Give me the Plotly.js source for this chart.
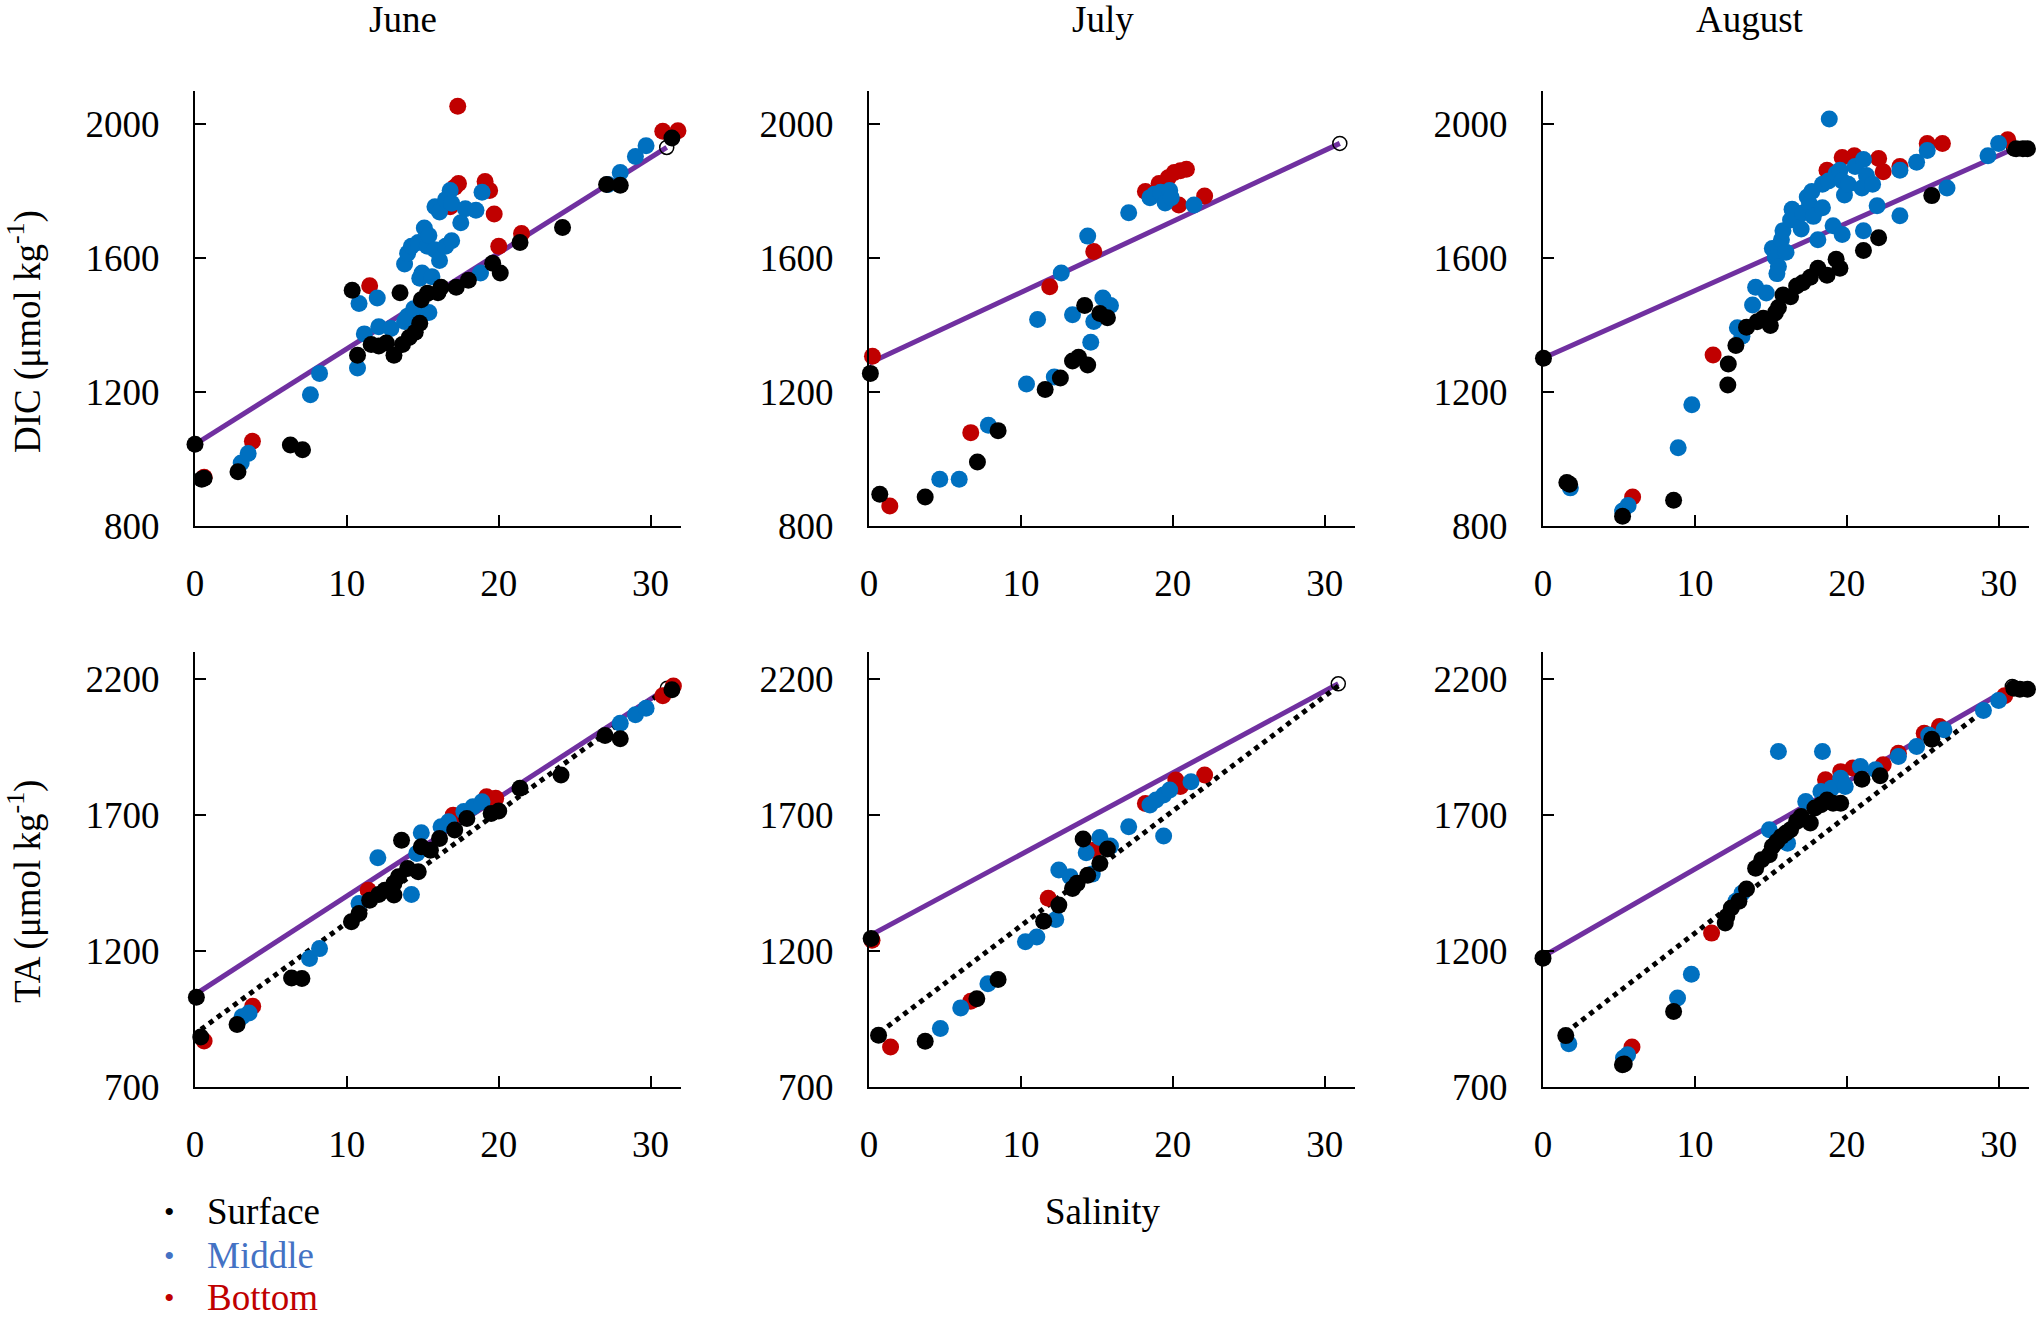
<!DOCTYPE html>
<html>
<head>
<meta charset="utf-8">
<script src="https://cdn.plot.ly/plotly-3.0.1.min.js"></script>
<style>html,body{margin:0;padding:0;background:#fff;}#chart{width:2041px;height:1317px;}</style>
</head>
<body>
<div id="chart"></div>
<script>
// ---------- tick labels / categories ----------
const months = ["June", "July", "August"];
const salinityTicks = [0, 10, 20, 30];
const dicTicks = [800, 1200, 1600, 2000];
const taTicks = [700, 1200, 1700, 2200];
const layerNames = ["Surface", "Middle", "Bottom"];

// ---------- June DIC ----------
const junDIC_surf_x = [0,0.44,0.6,2.83,6.28,7.08,10.35,10.7,11.6,12.1,12.6,13.1,13.5,13.66,14.1,14.5,14.8,14.9,15.3,16.0,16.2,17.2,18.0,19.6,20.1,21.4,24.2,27.1,28.0,31.4];
const junDIC_surf_y = [1043,939,942,961,1041,1027,1503,1309,1341,1337,1346,1309,1496,1341,1362,1378,1405,1475,1494,1496,1512,1512,1533,1584,1555,1646,1691,1819,1817,1958];
const junDIC_mid_x = [3.04,3.5,7.6,8.2,10.7,10.8,11.15,12.0,12.1,12.9,13.8,14.0,14.4,15.1,15.4,13.8,14.0,14.25,14.7,15.3,15.1,15.4,15.8,16.1,16.5,16.9,15.8,16.1,16.5,16.8,16.9,17.5,17.8,18.5,18.9,14.8,14.95,15.6,18.8,27.2,28.0,29.0,29.7];
const junDIC_mid_y = [987,1016,1191,1255,1271,1464,1373,1480,1394,1389,1410,1426,1448,1437,1437,1582,1614,1635,1646,1635,1689,1667,1624,1592,1635,1651,1753,1737,1774,1801,1763,1705,1747,1742,1796,1539,1555,1544,1555,1819,1855,1903,1935];
const junDIC_bot_x = [0.6,3.78,11.5,17.3,17.35,17.1,16.8,19.1,19.4,19.7,20.0,21.5,30.8,31.8];
const junDIC_bot_y = [945,1052,1517,2053,1822,1811,1753,1828,1801,1731,1635,1673,1978,1980];
const junDIC_mix_x = [0, 31.06];
const junDIC_mix_y = [1043, 1930];

// ---------- July DIC ----------
const julDIC_surf_x = [0.09,0.71,3.7,7.14,8.5,11.6,12.6,13.4,13.8,14.4,14.2,15.2,15.7];
const julDIC_surf_y = [1255,894,886,990,1084,1207,1241,1292,1303,1280,1458,1434,1421];
const julDIC_mid_x = [4.66,5.94,7.86,10.37,11.1,12.2,12.66,13.4,14.4,14.6,14.8,15.4,15.9,17.1,18.5,18.8,19.2,19.5,19.8,19.9,21.4];
const julDIC_mid_y = [939,939,1100,1223,1416,1244,1555,1430,1665,1348,1410,1480,1458,1735,1780,1790,1796,1764,1801,1780,1758];
const julDIC_bot_x = [0.23,1.37,6.7,11.9,14.8,18.2,19.1,19.7,20.1,20.5,20.9,20.4,22.1];
const julDIC_bot_y = [1306,859,1078,1514,1619,1798,1822,1839,1855,1860,1865,1758,1785];
const julDIC_mix_x = [0, 31.0];
const julDIC_mix_y = [1285, 1942];

// ---------- August DIC ----------
const augDIC_surf_x = [0.03,1.57,1.75,5.24,8.6,12.17,12.2,12.7,13.4,14.1,14.5,14.97,15.3,15.5,15.8,16.3,16.7,17.1,17.6,18.1,18.7,19.3,19.55,21.1,22.1,25.6,31.15,31.6,31.9];
const augDIC_surf_y = [1300,929,924,828,876,1220,1283,1338,1393,1409,1420,1398,1436,1452,1489,1484,1516,1526,1542,1569,1548,1596,1569,1622,1660,1786,1926,1926,1926];
const augDIC_mid_x = [1.8,5.24,5.6,8.9,9.8,12.8,13.1,13.8,14.0,14.7,15.1,15.3,15.4,15.5,15.7,15.8,16.0,16.3,16.4,16.7,17.0,17.1,17.4,17.55,17.8,18.1,18.4,17.7,18.4,18.8,18.85,19.1,19.3,19.55,19.7,19.85,19.7,20.1,20.55,21.0,21.1,21.1,21.3,21.7,22.0,23.5,23.5,24.6,25.3,26.6,29.3,30.0];
const augDIC_mid_y = [913,844,860,1033,1161,1391,1366,1459,1512,1495,1628,1601,1553,1574,1654,1681,1617,1713,1745,1724,1686,1734,1782,1761,1724,1654,1750,1798,1820,1830,2015,1696,1852,1862,1830,1788,1670,1820,1873,1809,1681,1894,1846,1820,1756,1862,1726,1886,1921,1809,1905,1942];
const augDIC_bot_x = [5.9,11.2,18.7,19.7,20.5,22.1,22.4,23.5,25.3,26.3,30.6];
const augDIC_bot_y = [886,1310,1862,1900,1905,1897,1857,1873,1942,1942,1953];
const augDIC_mix_x = [0, 31.0];
const augDIC_mix_y = [1300, 1926];

// ---------- June TA ----------
const junTA_surf_x = [0.09,0.38,2.77,6.36,7.04,10.3,10.8,11.5,12.1,12.5,13.1,13.1,13.4,13.6,14.0,14.7,14.9,15.5,16.1,17.1,17.9,19.5,20.0,21.4,24.1,27.0,28.0,31.4];
const junTA_surf_y = [1030,884,930,1101,1099,1308,1338,1387,1408,1424,1406,1449,1473,1608,1504,1492,1584,1571,1614,1645,1688,1706,1715,1799,1848,1993,1981,2161];
const junTA_mid_x = [3.1,3.56,7.54,8.2,10.8,12.04,14.25,14.9,14.6,16.2,16.7,17.7,18.3,18.9,28.0,29.0,29.7];
const junTA_mid_y = [958,972,1173,1209,1375,1543,1408,1635,1559,1657,1676,1713,1731,1749,2038,2069,2093];
const junTA_bot_x = [0.6,3.8,11.4,17.0,19.2,19.8,30.8,31.5];
const junTA_bot_y = [869,997,1424,1700,1768,1762,2139,2175];
const junTA_mix_x = [0, 31.1];
const junTA_mix_y = [1040, 2167];
const junTA_fit_x = [0.4, 31.1];
const junTA_fit_y = [912, 2167];

// ---------- July TA ----------
const julTA_surf_x = [0.14,0.63,3.7,7.1,8.5,11.5,12.5,13.4,13.7,14.1,14.4,15.2,15.7];
const julTA_surf_y = [1246,890,868,1025,1095,1310,1369,1430,1449,1612,1479,1522,1575];
const julTA_mid_x = [4.7,6.04,7.83,10.3,11.05,12.3,12.5,13.25,14.3,14.7,15.2,15.9,17.1,18.5,18.9,19.4,19.8,19.4,21.2];
const julTA_mid_y = [915,991,1080,1234,1252,1316,1498,1473,1562,1483,1618,1586,1657,1737,1756,1774,1792,1623,1823];
const julTA_bot_x = [0.2,1.42,6.7,11.8,14.8,18.2,20.2,20.5,22.1];
const julTA_bot_y = [1240,847,1015,1394,1571,1743,1829,1805,1848];
const julTA_mix_x = [0, 30.9];
const julTA_mix_y = [1255, 2183];
const julTA_fit_x = [0.7, 30.9];
const julTA_fit_y = [900, 2175];

// ---------- August TA ----------
const augTA_surf_x = [0,1.5,5.23,5.35,8.6,12.0,12.1,12.4,12.9,13.4,14.0,14.4,14.9,15.1,15.4,15.7,16.0,16.3,16.7,17.0,17.6,17.9,18.3,18.7,19.1,19.6,21.0,22.2,25.6,31.0,31.4,31.9];
const augTA_surf_y = [1174,889,782,785,978,1303,1327,1358,1383,1428,1505,1536,1554,1585,1603,1621,1634,1646,1677,1695,1671,1726,1738,1756,1744,1744,1832,1845,1979,2167,2163,2163];
const augTA_mid_x = [1.7,5.3,5.57,8.86,9.77,15.5,18.4,14.9,12.7,13.1,16.1,17.3,18.3,19.0,19.6,19.9,20.9,21.9,23.4,24.6,25.4,26.4,29.0,30.0];
const augTA_mid_y = [859,807,819,1027,1115,1934,1934,1646,1383,1413,1597,1750,1787,1799,1836,1805,1879,1867,1916,1952,1995,2014,2085,2122];
const augTA_bot_x = [5.86,11.1,18.6,19.6,20.4,22.4,23.4,25.1,26.1,30.4];
const augTA_bot_y = [847,1266,1830,1860,1873,1885,1928,2001,2026,2139];
const augTA_mix_x = [0, 30.9];
const augTA_mix_y = [1180, 2173];
const augTA_fit_x = [1.5, 30.9];
const augTA_fit_y = [900, 2165];

// ---------- styling ----------
const FONT = 'Liberation Serif, "Times New Roman", serif';
const COL_SURF = '#000000', COL_MID = '#0070C0', COL_BOT = '#C00000', COL_MIX = '#7030A0';
const W = 2041, H = 1317;
const px = v => v / W, py = v => 1 - v / H;

const colDom = [[195, 681], [869, 1355], [1543, 2029]];
const rowDom = [[90.5, 525.7], [652, 1087]];

const panels = [
  {s:[junDIC_surf_x,junDIC_surf_y], m:[junDIC_mid_x,junDIC_mid_y], b:[junDIC_bot_x,junDIC_bot_y], mix:[junDIC_mix_x,junDIC_mix_y]},
  {s:[julDIC_surf_x,julDIC_surf_y], m:[julDIC_mid_x,julDIC_mid_y], b:[julDIC_bot_x,julDIC_bot_y], mix:[julDIC_mix_x,julDIC_mix_y]},
  {s:[augDIC_surf_x,augDIC_surf_y], m:[augDIC_mid_x,augDIC_mid_y], b:[augDIC_bot_x,augDIC_bot_y], mix:[augDIC_mix_x,augDIC_mix_y]},
  {s:[junTA_surf_x,junTA_surf_y], m:[junTA_mid_x,junTA_mid_y], b:[junTA_bot_x,junTA_bot_y], mix:[junTA_mix_x,junTA_mix_y], fit:[junTA_fit_x,junTA_fit_y]},
  {s:[julTA_surf_x,julTA_surf_y], m:[julTA_mid_x,julTA_mid_y], b:[julTA_bot_x,julTA_bot_y], mix:[julTA_mix_x,julTA_mix_y], fit:[julTA_fit_x,julTA_fit_y]},
  {s:[augTA_surf_x,augTA_surf_y], m:[augTA_mid_x,augTA_mid_y], b:[augTA_bot_x,augTA_bot_y], mix:[augTA_mix_x,augTA_mix_y], fit:[augTA_fit_x,augTA_fit_y]}
];

const traces = [];
const layout = {
  width: W, height: H,
  margin: {l:0, r:0, t:0, b:0},
  paper_bgcolor: '#fff', plot_bgcolor: 'rgba(0,0,0,0)',
  showlegend: false,
  font: {family: FONT, size: 37, color: '#000'},
  annotations: [],
  shapes: []
};

panels.forEach((p, i) => {
  const n = i + 1;
  const xa = 'x' + (n === 1 ? '' : n), ya = 'y' + (n === 1 ? '' : n);
  const row = i < 3 ? 0 : 1, col = i % 3;
  const common = {
    ticks: 'inside', ticklen: 11, tickwidth: 2, tickcolor: '#000',
    showline: true, linewidth: 2, linecolor: '#000',
    showgrid: false, zeroline: false, mirror: false,
    tickfont: {family: FONT, size: 37, color: '#000'}
  };
  layout['xaxis' + (n === 1 ? '' : n)] = Object.assign({}, common, {
    domain: [px(colDom[col][0]), px(colDom[col][1])],
    anchor: ya, range: [0, 32], tickmode: 'array', tickvals: salinityTicks,
    ticklabelstandoff: 24
  });
  layout['yaxis' + (n === 1 ? '' : n)] = Object.assign({}, common, {
    domain: [py(rowDom[row][1]), py(rowDom[row][0])],
    anchor: xa, range: row === 0 ? [800, 2100] : [700, 2300],
    tickmode: 'array', tickvals: row === 0 ? dicTicks : taTicks,
    ticklabelstandoff: 26
  });
  // conservative mixing line
  traces.push({x: p.mix[0], y: p.mix[1], xaxis: xa, yaxis: ya, mode: 'lines',
    line: {color: COL_MIX, width: 5}, cliponaxis: false, hoverinfo: 'skip'});
  if (p.fit) {
    traces.push({x: p.fit[0], y: p.fit[1], xaxis: xa, yaxis: ya, mode: 'lines',
      line: {color: '#000', width: 5, dash: 'dot'}, cliponaxis: false, hoverinfo: 'skip'});
  }
  // seawater end-member (open circle)
  traces.push({x: [p.mix[0][1]], y: [p.mix[1][1]], xaxis: xa, yaxis: ya, mode: 'markers',
    marker: {size: 14, color: 'rgba(255,255,255,0)', line: {color: '#000', width: 1.5}}, cliponaxis: false});
  [['b', COL_BOT, 'Bottom'], ['m', COL_MID, 'Middle'], ['s', COL_SURF, 'Surface']].forEach(([k, c, nm]) => {
    traces.push({x: p[k][0], y: p[k][1], xaxis: xa, yaxis: ya, mode: 'markers', name: nm,
      marker: {size: 17, color: c}, cliponaxis: false});
  });
});

// month titles
const monthX = [403, 1103, 1750];
months.forEach((m, i) => layout.annotations.push({
  text: m, xref: 'paper', yref: 'paper', x: px(monthX[i]), y: py(20),
  xanchor: 'center', yanchor: 'middle', showarrow: false, font: {family: FONT, size: 37, color: '#000'}
}));
// y titles
layout.annotations.push({text: 'DIC (μmol kg<sup>-1</sup>)', xref: 'paper', yref: 'paper', x: px(25), y: py(332),
  xanchor: 'center', yanchor: 'middle', textangle: -90, showarrow: false, font: {family: FONT, size: 37, color: '#000'}});
layout.annotations.push({text: 'TA (μmol kg<sup>-1</sup>)', xref: 'paper', yref: 'paper', x: px(25), y: py(892),
  xanchor: 'center', yanchor: 'middle', textangle: -90, showarrow: false, font: {family: FONT, size: 37, color: '#000'}});
// x title
layout.annotations.push({text: 'Salinity', xref: 'paper', yref: 'paper', x: px(1103), y: py(1211),
  xanchor: 'center', yanchor: 'middle', showarrow: false, font: {family: FONT, size: 37, color: '#000'}});
// legend
const legendColors = ['#000000', '#4472C4', '#C00000'];
const legendY = [1211, 1255, 1297];
layerNames.forEach((nm, i) => {
  layout.annotations.push({text: '•', xref: 'paper', yref: 'paper', x: px(169), y: py(legendY[i]),
    xanchor: 'center', yanchor: 'middle', showarrow: false, font: {family: FONT, size: 30, color: legendColors[i]}});
  layout.annotations.push({text: nm, xref: 'paper', yref: 'paper', x: px(205), y: py(legendY[i]),
    xanchor: 'left', yanchor: 'middle', showarrow: false, font: {family: FONT, size: 37, color: legendColors[i]}});
});

Plotly.newPlot('chart', traces, layout, {displayModeBar: false, staticPlot: true});
</script>
</body>
</html>
